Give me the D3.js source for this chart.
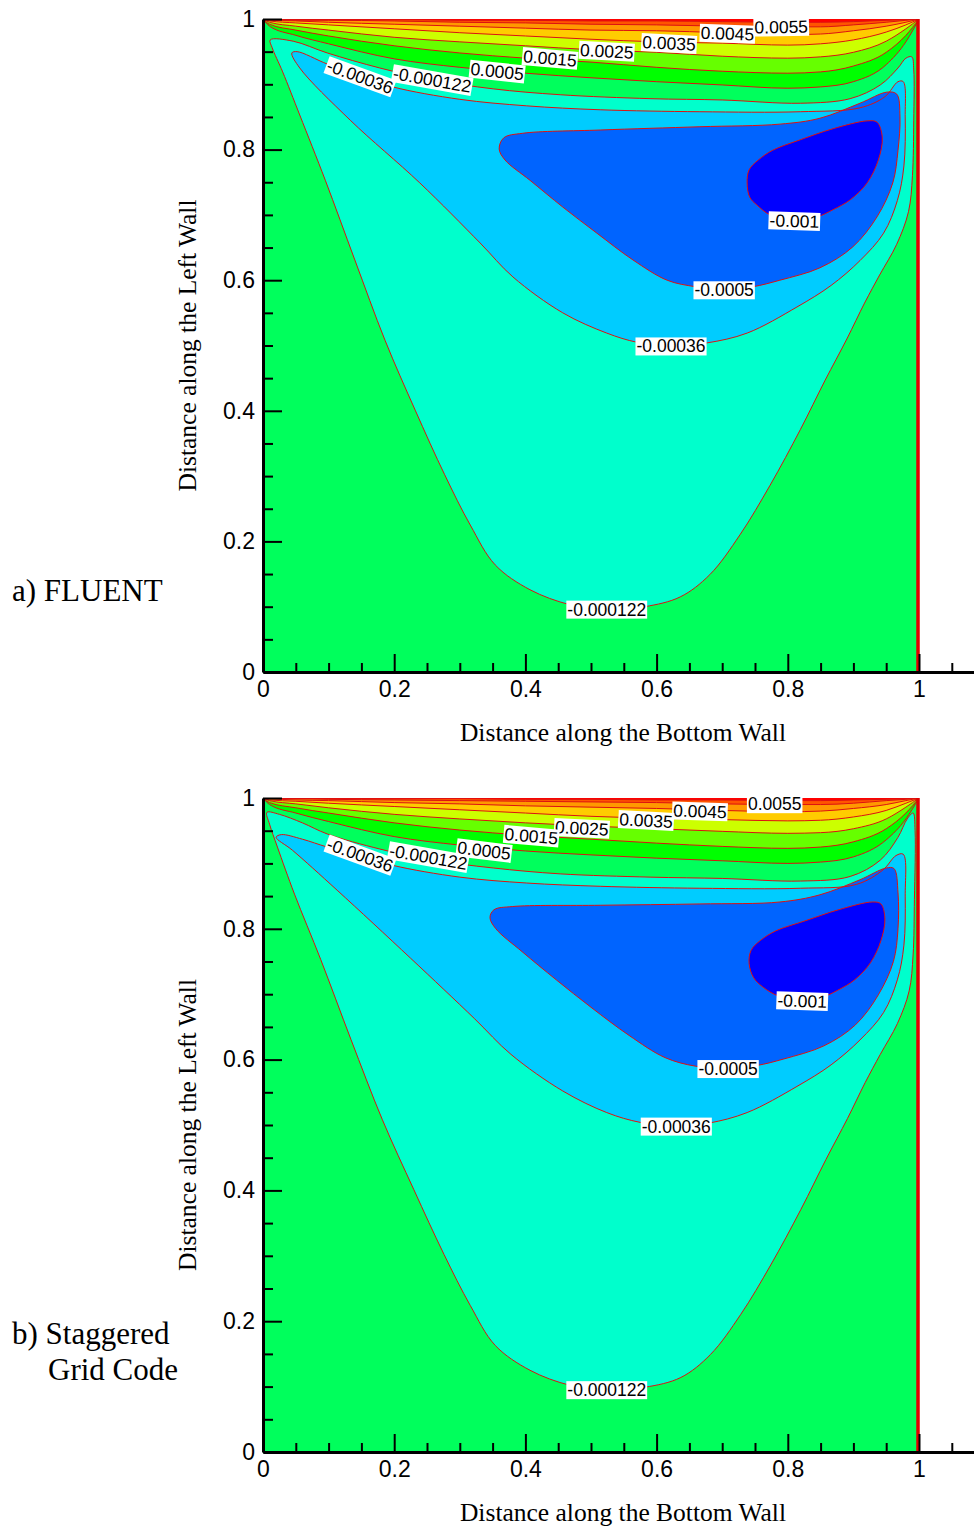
<!DOCTYPE html>
<html>
<head>
<meta charset="utf-8">
<script src="https://cdn.jsdelivr.net/npm/d3@7"></script>
<style>
  body { margin: 0; background: #fff; }
  svg text { font-family: "Liberation Sans", Arial, sans-serif; }
  .serif { font-family: "Liberation Serif", "Times New Roman", serif; }
</style>
</head>
<body>
<svg id="chart" width="974" height="1531"></svg>
<script>
// ---- axis ticks ----
const xTicks = [0, 0.2, 0.4, 0.6, 0.8, 1];
const yTicks = [0, 0.2, 0.4, 0.6, 0.8, 1];
const xMinor = [0.05, 0.1, 0.15, 0.25, 0.3, 0.35, 0.45, 0.5, 0.55, 0.65, 0.7, 0.75, 0.85, 0.9, 0.95, 1.05];
const yMinor = [0.05, 0.1, 0.15, 0.25, 0.3, 0.35, 0.45, 0.5, 0.55, 0.65, 0.7, 0.75, 0.85, 0.9, 0.95];

// ---- contour levels / colours ----
const negLevels = [-0.000122, -0.00036, -0.0005, -0.001];
const negColors = ['#00ffcc', '#00ccff', '#0064ff', '#0000ff'];
const posLevels = [0.0005, 0.0015, 0.0025, 0.0035, 0.0045, 0.0055, 0.0065];
const posColors = ['#00ff00', '#66ff00', '#ccff00', '#ffcc00', '#ff9900', '#ff5500', '#ff0000'];
const baseColor = '#00ff5c';

// x positions where the lid-driven (positive) contours were read
const lidX = [0, 0.01, 0.05, 0.1, 0.2, 0.3, 0.4, 0.5, 0.6, 0.7, 0.8, 0.85, 0.9, 0.95, 0.98, 1];

// ---- a) FLUENT ----
const fluentP0005 = [1, 0.989, 0.975, 0.962, 0.939, 0.926, 0.917, 0.910, 0.904, 0.899, 0.894, 0.896, 0.904, 0.930, 0.965, 1];
const fluentP0015 = [1, 0.992, 0.983, 0.974, 0.959, 0.948, 0.940, 0.934, 0.926, 0.920, 0.917, 0.919, 0.928, 0.949, 0.975, 1];
const fluentP0025 = [1, 0.995, 0.989, 0.983, 0.972, 0.965, 0.959, 0.953, 0.949, 0.943, 0.940, 0.942, 0.949, 0.966, 0.985, 1];
const fluentP0035 = [1, 0.997, 0.994, 0.991, 0.985, 0.979, 0.974, 0.969, 0.965, 0.963, 0.960, 0.962, 0.968, 0.980, 0.991, 1];
const fluentP0045 = [1, 0.998, 0.997, 0.995, 0.992, 0.989, 0.986, 0.983, 0.982, 0.979, 0.976, 0.977, 0.982, 0.989, 0.995, 1];
const fluentP0055 = [1, 0.999, 0.998, 0.998, 0.997, 0.995, 0.994, 0.992, 0.991, 0.989, 0.988, 0.988, 0.991, 0.995, 0.998, 1];
const fluentP0065 = [1, 1, 0.999, 0.999, 0.999, 0.998, 0.998, 0.997, 0.997, 0.996, 0.995, 0.995, 0.996, 0.998, 0.999, 1];

const fluentM000122 = [[0.011,0.968],[0.046,0.966],[0.098,0.948],[0.178,0.925],[0.258,0.907],[0.351,0.893],[0.453,0.884],[0.590,0.878],[0.700,0.876],[0.819,0.871],[0.895,0.878],[0.941,0.899],[0.968,0.925],[0.980,0.940],[0.989,0.942],[0.992,0.922],[0.992,0.845],[0.990,0.760],[0.984,0.705],[0.966,0.655],[0.940,0.608],[0.917,0.565],[0.890,0.510],[0.857,0.447],[0.819,0.371],[0.773,0.286],[0.727,0.210],[0.681,0.149],[0.636,0.115],[0.582,0.100],[0.524,0.095],[0.468,0.103],[0.407,0.126],[0.354,0.164],[0.316,0.225],[0.277,0.302],[0.232,0.401],[0.186,0.508],[0.140,0.631],[0.095,0.753],[0.056,0.853],[0.030,0.919],[0.014,0.956]];
const fluentM00036 = [[0.044,0.948],[0.052,0.950],[0.098,0.931],[0.148,0.913],[0.198,0.896],[0.300,0.877],[0.402,0.867],[0.514,0.861],[0.666,0.858],[0.819,0.858],[0.910,0.864],[0.948,0.881],[0.968,0.904],[0.976,0.904],[0.979,0.850],[0.977,0.775],[0.967,0.722],[0.946,0.672],[0.910,0.630],[0.866,0.592],[0.814,0.559],[0.738,0.519],[0.677,0.504],[0.622,0.499],[0.570,0.505],[0.524,0.519],[0.457,0.550],[0.381,0.605],[0.331,0.657],[0.239,0.749],[0.133,0.845],[0.056,0.925]];
const fluentM0005 = [[0.360,0.801],[0.367,0.818],[0.396,0.825],[0.514,0.830],[0.666,0.835],[0.788,0.839],[0.849,0.848],[0.910,0.871],[0.951,0.888],[0.966,0.885],[0.971,0.850],[0.968,0.799],[0.960,0.749],[0.936,0.697],[0.899,0.651],[0.849,0.619],[0.788,0.600],[0.747,0.590],[0.703,0.585],[0.659,0.590],[0.616,0.600],[0.564,0.631],[0.509,0.672],[0.457,0.712],[0.407,0.753],[0.369,0.784]];
const fluentM001 = [[0.921,0.844],[0.936,0.842],[0.944,0.819],[0.938,0.784],[0.921,0.749],[0.895,0.723],[0.869,0.708],[0.845,0.697],[0.810,0.691],[0.773,0.700],[0.753,0.715],[0.742,0.727],[0.738,0.749],[0.741,0.769],[0.755,0.784],[0.777,0.799],[0.819,0.815],[0.869,0.832]];

const fluentLabels = [
  ['0.0045', 0.708, 0.978, 2], ['0.0055', 0.790, 0.988, -1], ['0.0035', 0.619, 0.963, 3],
  ['0.0025', 0.524, 0.951, 3], ['0.0015', 0.4375, 0.940, 5], ['0.0005', 0.357, 0.920, 6],
  ['-0.000122', 0.258, 0.907, 10], ['-0.00036', 0.148, 0.912, 20], ['-0.001', 0.810, 0.691, 2],
  ['-0.0005', 0.703, 0.585, 0], ['-0.00036', 0.622, 0.499, 0], ['-0.000122', 0.524, 0.096, 0]
];

// ---- b) Staggered Grid Code ----
const stagP0005 = [1, 0.990, 0.977, 0.964, 0.941, 0.928, 0.919, 0.913, 0.908, 0.904, 0.900, 0.902, 0.910, 0.936, 0.968, 1];
const stagP0015 = [1, 0.993, 0.985, 0.977, 0.962, 0.951, 0.943, 0.937, 0.931, 0.926, 0.923, 0.925, 0.933, 0.953, 0.977, 1];
const stagP0025 = [1, 0.996, 0.991, 0.985, 0.975, 0.968, 0.962, 0.957, 0.953, 0.949, 0.946, 0.947, 0.953, 0.968, 0.986, 1];
const stagP0035 = [1, 0.997, 0.995, 0.992, 0.987, 0.982, 0.977, 0.972, 0.969, 0.967, 0.965, 0.966, 0.971, 0.981, 0.992, 1];
const stagP0045 = [1, 0.999, 0.997, 0.996, 0.993, 0.991, 0.988, 0.986, 0.984, 0.981, 0.979, 0.980, 0.984, 0.990, 0.996, 1];
const stagP0055 = [1, 0.999, 0.999, 0.998, 0.997, 0.996, 0.995, 0.994, 0.993, 0.991, 0.990, 0.990, 0.992, 0.996, 0.998, 1];
const stagP0065 = [1, 1, 0.999, 0.999, 0.999, 0.999, 0.998, 0.998, 0.997, 0.997, 0.996, 0.996, 0.997, 0.998, 0.999, 1];

const stagM000122 = [[0.006,0.978],[0.025,0.975],[0.060,0.962],[0.098,0.945],[0.178,0.922],[0.252,0.906],[0.351,0.893],[0.453,0.884],[0.590,0.879],[0.700,0.877],[0.819,0.873],[0.895,0.880],[0.941,0.905],[0.968,0.940],[0.982,0.968],[0.991,0.977],[0.994,0.950],[0.993,0.845],[0.991,0.760],[0.985,0.705],[0.967,0.655],[0.941,0.608],[0.918,0.565],[0.891,0.510],[0.858,0.447],[0.820,0.371],[0.774,0.286],[0.728,0.210],[0.682,0.149],[0.637,0.114],[0.582,0.099],[0.524,0.095],[0.468,0.102],[0.407,0.125],[0.354,0.163],[0.316,0.224],[0.276,0.302],[0.230,0.401],[0.182,0.508],[0.134,0.631],[0.088,0.753],[0.048,0.853],[0.022,0.925],[0.010,0.960]];
const stagM00036 = [[0.020,0.940],[0.028,0.944],[0.060,0.937],[0.098,0.925],[0.148,0.912],[0.198,0.897],[0.300,0.879],[0.402,0.870],[0.514,0.865],[0.666,0.862],[0.819,0.862],[0.905,0.868],[0.945,0.890],[0.965,0.912],[0.976,0.914],[0.979,0.850],[0.977,0.775],[0.967,0.722],[0.946,0.672],[0.910,0.630],[0.866,0.592],[0.814,0.559],[0.738,0.519],[0.680,0.503],[0.630,0.498],[0.575,0.504],[0.524,0.519],[0.457,0.552],[0.378,0.608],[0.322,0.663],[0.225,0.755],[0.113,0.859],[0.045,0.920]];
const stagM0005 = [[0.346,0.817],[0.352,0.829],[0.380,0.834],[0.514,0.836],[0.666,0.838],[0.788,0.841],[0.849,0.852],[0.910,0.875],[0.950,0.893],[0.962,0.892],[0.968,0.855],[0.968,0.800],[0.961,0.750],[0.938,0.699],[0.903,0.653],[0.855,0.621],[0.794,0.601],[0.753,0.591],[0.709,0.586],[0.659,0.590],[0.613,0.603],[0.558,0.637],[0.500,0.680],[0.447,0.722],[0.395,0.765],[0.355,0.800]];
const stagM001 = [[0.929,0.841],[0.942,0.838],[0.948,0.815],[0.942,0.782],[0.926,0.748],[0.902,0.722],[0.876,0.706],[0.852,0.695],[0.822,0.690],[0.786,0.697],[0.762,0.711],[0.748,0.725],[0.741,0.747],[0.744,0.767],[0.758,0.782],[0.782,0.797],[0.826,0.812],[0.877,0.829]];

const stagLabels = [
  ['0.0055', 0.780, 0.991, 0], ['0.0045', 0.666, 0.980, 2], ['0.0035', 0.584, 0.966, 3],
  ['0.0025', 0.486, 0.954, 3], ['0.0015', 0.409, 0.942, 5], ['0.0005', 0.337, 0.920, 7],
  ['-0.000122', 0.252, 0.910, 10], ['-0.00036', 0.148, 0.913, 20], ['-0.001', 0.822, 0.690, 2],
  ['-0.0005', 0.709, 0.586, 0], ['-0.00036', 0.630, 0.498, 0], ['-0.000122', 0.524, 0.095, 0]
];

const panels = [
  { id: 'a', top: 19, bottom: 672, title: ['a) FLUENT'], titleY: 601,
    pos: [fluentP0005, fluentP0015, fluentP0025, fluentP0035, fluentP0045, fluentP0055, fluentP0065],
    neg: [fluentM000122, fluentM00036, fluentM0005, fluentM001], labels: fluentLabels },
  { id: 'b', top: 798, bottom: 1452, title: ['b) Staggered', 'Grid Code'], titleY: 1344,
    pos: [stagP0005, stagP0015, stagP0025, stagP0035, stagP0045, stagP0055, stagP0065],
    neg: [stagM000122, stagM00036, stagM0005, stagM001], labels: stagLabels }
];

const svg = d3.select('#chart');
const x = d3.scaleLinear().domain([0, 1]).range([263, 919]);
const xAxisScale = d3.scaleLinear().domain([0, 1.1]).range([x(0), x(1.1)]);
const lineColor = '#dd1111';

panels.forEach(p => {
  const y = d3.scaleLinear().domain([0, 1]).range([p.bottom, p.top]);
  const g = svg.append('g');

  g.append('clipPath').attr('id', 'clip-' + p.id)
    .append('rect')
    .attr('x', x(0)).attr('y', y(1))
    .attr('width', x(1) - x(0)).attr('height', y(0) - y(1));

  const plot = g.append('g').attr('clip-path', `url(#clip-${p.id})`);

  plot.append('rect')
    .attr('x', x(0)).attr('y', y(1))
    .attr('width', x(1) - x(0)).attr('height', y(0) - y(1))
    .attr('fill', baseColor);

  const loop = d3.line().x(d => x(d[0])).y(d => y(d[1])).curve(d3.curveCatmullRomClosed.alpha(0.5));
  const open = d3.line().x(d => x(d[0])).y(d => y(d[1])).curve(d3.curveMonotoneX);

  // negative (recirculation) regions, outermost first
  p.neg.forEach((pts, i) => {
    plot.append('path').attr('d', loop(pts)).attr('fill', negColors[i]);
  });
  // positive regions under the lid
  p.pos.forEach((ys, i) => {
    const pts = lidX.map((xx, j) => [xx, ys[j]]);
    plot.append('path').attr('d', open(pts) + 'Z').attr('fill', posColors[i]);
  });
  // contour lines
  p.neg.forEach(pts => {
    plot.append('path').attr('d', loop(pts)).attr('fill', 'none')
      .attr('stroke', lineColor).attr('stroke-width', 1);
  });
  p.pos.forEach(ys => {
    const pts = lidX.map((xx, j) => [xx, ys[j]]);
    plot.append('path').attr('d', open(pts)).attr('fill', 'none')
      .attr('stroke', lineColor).attr('stroke-width', 1);
  });

  // right wall boundary
  g.append('line')
    .attr('x1', x(1) - 1).attr('x2', x(1) - 1)
    .attr('y1', y(0)).attr('y2', y(1))
    .attr('stroke', '#e00000').attr('stroke-width', 3.5);

  // contour labels
  p.labels.forEach(([txt, lx, ly, ang]) => {
    const lg = g.append('g').attr('transform', `translate(${x(lx)},${y(ly)}) rotate(${ang})`);
    const bg = lg.append('rect').attr('fill', '#fff');
    const t = lg.append('text').text(txt)
      .attr('text-anchor', 'middle').attr('dy', '0.36em')
      .attr('font-size', 17.5).attr('fill', '#000');
    const bb = t.node().getBBox();
    bg.attr('x', bb.x - 1).attr('y', bb.y + 1).attr('width', bb.width + 2).attr('height', bb.height - 2);
  });

  // axes
  const fmt = d3.format('~g');
  const yAx = g.append('g').attr('transform', `translate(${x(0)},0)`)
    .call(d3.axisLeft(y).tickValues(yTicks).tickSize(-19).tickSizeOuter(0).tickPadding(8).tickFormat(fmt));
  g.append('g').attr('transform', `translate(${x(0)},0)`)
    .call(d3.axisLeft(y).tickValues(yMinor).tickSize(-10).tickSizeOuter(0).tickFormat(''))
    .call(a => a.select('.domain').remove());
  const xAx = g.append('g').attr('transform', `translate(0,${y(0)})`)
    .call(d3.axisBottom(xAxisScale).tickValues(xTicks).tickSize(-18).tickSizeOuter(0).tickPadding(9).tickFormat(fmt));
  g.append('g').attr('transform', `translate(0,${y(0)})`)
    .call(d3.axisBottom(xAxisScale).tickValues(xMinor).tickSize(-9).tickSizeOuter(0).tickFormat(''))
    .call(a => a.select('.domain').remove());

  g.selectAll('.tick line').attr('stroke', '#000').attr('stroke-width', 2);
  [yAx, xAx].forEach(a => {
    a.select('.domain').attr('stroke', '#000').attr('stroke-width', 3);
    a.selectAll('.tick text').attr('font-size', 23).attr('fill', '#000')
      .attr('font-family', '"Liberation Sans", Arial, sans-serif');
  });

  // axis titles
  g.append('text').attr('class', 'serif')
    .attr('x', 623).attr('y', y(0) + 69)
    .attr('text-anchor', 'middle').attr('font-size', 25.5)
    .text('Distance along the Bottom Wall');
  g.append('text').attr('class', 'serif')
    .attr('transform', `translate(196,${(y(0) + y(1)) / 2}) rotate(-90)`)
    .attr('text-anchor', 'middle').attr('font-size', 25.5)
    .text('Distance along the Left Wall');

  // panel caption
  p.title.forEach((line, i) => {
    g.append('text').attr('class', 'serif')
      .attr('x', i === 0 ? 12 : 48).attr('y', p.titleY + i * 36)
      .attr('font-size', 31).text(line);
  });
});
</script>
</body>
</html>
